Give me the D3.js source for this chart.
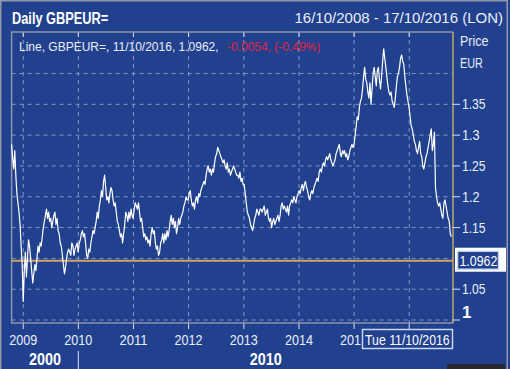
<!DOCTYPE html>
<html><head><meta charset="utf-8">
<script src="https://cdn.jsdelivr.net/npm/d3@7"></script>
<style>html,body{margin:0;padding:0;background:#21418f;overflow:hidden}svg{display:block}</style>
</head><body><svg id="c" width="510" height="369"></svg>
<script>
const title = "Daily GBPEUR=";
const rangeText = "16/10/2008 - 17/10/2016 (LON)";
const legendWhite = "Line, GBPEUR=, 11/10/2016, 1.0962,";
const legendRed = "-0.0054, (-0.49%)";
const lastPrice = 1.0962;
const lastDateLabel = "Tue 11/10/2016";
const axisTitle = ["Price", "EUR"];
const yTicks = [1.05, 1.15, 1.2, 1.25, 1.3, 1.35];
const yTickLabels = ["1.05", "1.15", "1.2", "1.25", "1.3", "1.35"];
const yGrid = [1.0, 1.05, 1.1, 1.15, 1.2, 1.25, 1.3, 1.35, 1.4];
const gridYears = ["2009", "2010", "2011", "2012", "2013", "2014", "2015", "2016"];
const yearLabels = ["2009", "2010", "2011", "2012", "2013", "2014", "201"]; // last one is cut by the date tag
const decadeLabels = ["2000", "2010"];
const decadeStarts = ["2008-10-16", "2010-01-01"];
const startDate = "2008-10-16";
const endDate = "2016-10-17";

// weekly closes
const w2008 = [1.285,1.262,1.245,1.275,1.235,1.205,1.19,1.175,1.155,1.12,1.09];
const w2009 = [1.03,1.08,1.11,1.07, 1.10,1.13,1.12,1.10, 1.08,1.06,1.075,1.09,1.08, 1.10,1.12,1.11,1.125,
  1.12,1.135,1.15,1.16, 1.17,1.18,1.165,1.175,1.16, 1.165,1.15,1.16,1.17, 1.175,1.155,1.165,1.145,
  1.14,1.125,1.12,1.105,1.09, 1.075,1.085,1.10,1.11, 1.115,1.11,1.105,1.125, 1.12,1.105,1.115,1.12,1.125];
const w2010 = [1.11,1.125,1.13,1.14, 1.145,1.135,1.14,1.125, 1.105,1.10,1.115,1.11,1.125, 1.135,1.145,1.14,1.15,
  1.16,1.175,1.165,1.185, 1.195,1.21,1.20,1.225,1.235, 1.215,1.195,1.20,1.19, 1.205,1.215,1.21,1.195,
  1.185,1.19,1.175,1.16,1.155, 1.145,1.135,1.14,1.125, 1.14,1.155,1.175,1.17, 1.16,1.175,1.165,1.18,1.17];
const w2011 = [1.165,1.18,1.19,1.185, 1.18,1.19,1.175,1.16, 1.165,1.15,1.135,1.14,1.13, 1.135,1.125,1.13,1.12,
  1.14,1.15,1.14,1.145, 1.125,1.115,1.12,1.105,1.11, 1.125,1.13,1.14,1.125, 1.14,1.13,1.145,1.135,
  1.145,1.16,1.17,1.155,1.165, 1.15,1.16,1.14,1.15, 1.165,1.155,1.165,1.17, 1.175,1.185,1.19,1.20,1.195];
const w2012 = [1.195,1.205,1.21,1.195, 1.185,1.19,1.18,1.195, 1.20,1.19,1.205,1.20,1.21, 1.215,1.22,1.225,1.22,
  1.235,1.245,1.25,1.24, 1.245,1.235,1.245,1.24,1.255, 1.265,1.27,1.28,1.275, 1.27,1.265,1.26,1.255,
  1.26,1.25,1.245,1.255,1.24, 1.245,1.235,1.24,1.245, 1.25,1.245,1.24,1.235, 1.235,1.23,1.24,1.225,1.23,1.22];
const w2013 = [1.22,1.205,1.19,1.175, 1.17,1.165,1.155,1.15, 1.145,1.155,1.165,1.17,1.18, 1.175,1.17,1.18,1.18,
  1.175,1.18,1.185,1.17, 1.175,1.18,1.165,1.16,1.165, 1.15,1.16,1.165,1.155, 1.16,1.165,1.17,1.16,
  1.17,1.185,1.19,1.18,1.185, 1.18,1.175,1.185,1.17, 1.185,1.19,1.195,1.19, 1.20,1.195,1.19,1.20,1.205];
const w2014 = [1.21,1.205,1.215,1.22, 1.21,1.22,1.225,1.215, 1.21,1.20,1.195,1.205,1.21, 1.205,1.215,1.22,1.225,
  1.23,1.225,1.24,1.245, 1.24,1.25,1.255,1.25,1.26, 1.265,1.26,1.265,1.27, 1.26,1.255,1.25,1.255,
  1.26,1.27,1.275,1.28,1.285, 1.27,1.265,1.275,1.27, 1.275,1.265,1.27,1.26, 1.265,1.275,1.28,1.285,1.28];
const w2015 = [1.285,1.30,1.315,1.33, 1.325,1.345,1.355,1.36, 1.375,1.395,1.41,1.39,1.385, 1.37,1.36,1.385,1.35,
  1.375,1.40,1.41,1.395, 1.38,1.405,1.41,1.39,1.375, 1.395,1.42,1.44,1.425, 1.41,1.395,1.38,1.37,
  1.365,1.37,1.355,1.35,1.345, 1.36,1.38,1.395,1.40, 1.41,1.425,1.43,1.42, 1.415,1.395,1.38,1.365,1.355];
const w2016 = [1.345,1.33,1.315,1.31, 1.30,1.29,1.285,1.275, 1.27,1.28,1.29,1.27,1.265, 1.25,1.245,1.255,1.265,
  1.27,1.28,1.29,1.30, 1.31,1.275,1.285,1.305, 1.215,1.20, 1.19,1.185,1.19, 1.18,1.17,1.165,1.19,
  1.195,1.185,1.175,1.165,1.16, 1.14,1.135];

const values = [].concat(w2008, w2009, w2010, w2011, w2012, w2013, w2014, w2015, w2016);
const t0 = new Date(startDate + "T00:00:00");
const series = values.map((v, i) => ({ d: d3.timeDay.offset(t0, 7 * i), v }));

const BG = "#21418f", TXT = "#e9eef8", GRID = "#8596c6";
const FONT = "'Liberation Sans',Arial,sans-serif";
const svg = d3.select("#c").style("font-family", FONT);
svg.append("rect").attr("width", 510).attr("height", 369).attr("fill", BG);
svg.append("rect").attr("x", 0.75).attr("y", 0.75).attr("width", 506.5).attr("height", 372)
  .attr("fill", "none").attr("stroke", "#8f96aa").attr("stroke-width", 1.5);

const L = 11.6, R = 453, T = 32, B = 323;
const x = d3.scaleTime().domain([new Date(startDate + "T00:00:00"), new Date(endDate + "T00:00:00")]).range([L, R]);
const y = d3.scaleLinear().domain([1.0, 1.4]).range([320, 73.5]);

// helper: text squeezed to the narrow face of the original
function ntext(sel, str, size, perChar) {
  return sel.append("text").attr("font-size", size)
    .attr("textLength", str.length * perChar).attr("lengthAdjust", "spacingAndGlyphs").text(str);
}

// header
ntext(svg, title, 16, 7.4).attr("x", 12).attr("y", 24).attr("fill", "#fff").attr("font-weight", "bold");
svg.append("text").attr("x", 503).attr("y", 23).attr("text-anchor", "end").attr("fill", TXT).attr("font-size", 15).text(rangeText);

// grid
const gridDates = gridYears.map(s => new Date(s + "-01-01T00:00:00"));
const g = svg.append("g");
g.selectAll("line.h").data(yGrid).join("line")
  .attr("x1", L).attr("x2", R).attr("y1", d => y(d)).attr("y2", d => y(d))
  .attr("stroke", GRID).attr("stroke-width", 1).attr("stroke-dasharray", "4,4");
g.selectAll("line.v").data(gridDates).join("line")
  .attr("x1", d => x(d)).attr("x2", d => x(d)).attr("y1", T).attr("y2", B)
  .attr("stroke", GRID).attr("stroke-width", 1).attr("stroke-dasharray", "4,4");
g.selectAll("line.tt").data(gridDates).join("line")
  .attr("x1", d => x(d)).attr("x2", d => x(d)).attr("y1", T).attr("y2", T + 5).attr("stroke", "#d8e0f0");
g.selectAll("line.bt").data(gridDates).join("line")
  .attr("x1", d => x(d)).attr("x2", d => x(d)).attr("y1", B).attr("y2", B + 6).attr("stroke", "#d8e0f0");

// frame
svg.append("path").attr("d", `M${R},${T}H${L}V${B}H${R}`).attr("fill", "none").attr("stroke", "#8e95a8").attr("stroke-width", 1.5);
svg.append("line").attr("x1", R).attr("x2", R).attr("y1", T).attr("y2", B).attr("stroke", "#c2a66f").attr("stroke-width", 1.5);

// last price line
svg.append("line").attr("x1", L).attr("x2", R).attr("y1", y(lastPrice)).attr("y2", y(lastPrice))
  .attr("stroke", "#cfa45e").attr("stroke-width", 2);

// series
svg.append("path").datum(series)
  .attr("d", d3.line().x(d => x(d.d)).y(d => y(d.v)))
  .attr("fill", "none").attr("stroke", "#ffffff").attr("stroke-width", 1.2).attr("stroke-linejoin", "round");

// legend
svg.append("text").attr("x", 19).attr("y", 51).attr("font-size", 12).attr("fill", TXT).text(legendWhite);
svg.append("text").attr("x", 227).attr("y", 51).attr("font-size", 12).attr("fill", "#e0243c").text(legendRed);

// y axis on the right
const ya = svg.append("g");
ya.selectAll("line").data(yTicks.concat([1.0])).join("line")
  .attr("x1", R).attr("x2", R + 7).attr("y1", d => y(d)).attr("y2", d => y(d)).attr("stroke", "#d8e0f0");
yTicks.forEach((d, i) => {
  ntext(ya, yTickLabels[i], 15, 5.9).attr("x", R + 9).attr("y", y(d) + 5).attr("fill", TXT);
});
ya.append("text").attr("x", R + 9).attr("y", y(1.0) - 2).attr("fill", "#fff").attr("font-size", 17).attr("font-weight", "bold").text("1");
ntext(svg, axisTitle[0], 15, 5.7).attr("x", 460).attr("y", 46).attr("fill", TXT);
ntext(svg, axisTitle[1], 15, 7.6).attr("x", 460).attr("y", 68).attr("fill", TXT);

// last price tag
const yl = y(lastPrice);
svg.append("rect").attr("x", 455).attr("y", yl - 13).attr("width", 51).attr("height", 24).attr("fill", "#ffffff");
svg.append("rect").attr("x", 457.5).attr("y", yl - 9.5).attr("width", 41).attr("height", 18).attr("fill", BG).attr("stroke", "#c9d6f0").attr("stroke-width", 1.5);
ntext(svg, lastPrice.toFixed(4), 15, 6.3).attr("x", 459.5).attr("y", yl + 5.5).attr("fill", "#fff");

// x axis labels
const xl = svg.append("g");
yearLabels.forEach((s, i) => {
  ntext(xl, s, 15, 7).attr("x", x(gridDates[i]) - 14).attr("y", 345).attr("fill", TXT);
});
// date tag
svg.append("rect").attr("x", 362.5).attr("y", 329.5).attr("width", 90).attr("height", 19).attr("fill", BG).attr("stroke", "#c9d6f0").attr("stroke-width", 1.5);
ntext(svg, lastDateLabel, 15, 6.05).attr("x", 365).attr("y", 345).attr("fill", "#fff");

// decade row
const dec0 = x(new Date(decadeStarts[1] + "T00:00:00"));
svg.append("line").attr("x1", dec0).attr("x2", dec0).attr("y1", 351).attr("y2", 369).attr("stroke", "#d8e0f0");
ntext(svg, decadeLabels[0], 16, 8).attr("x", (L + dec0) / 2 - 16).attr("y", 365).attr("fill", "#fff").attr("font-weight", "bold");
ntext(svg, decadeLabels[1], 16, 8).attr("x", (dec0 + R) / 2 - 16).attr("y", 365).attr("fill", "#fff").attr("font-weight", "bold");
svg.append("rect").attr("x", 447).attr("y", 364).attr("width", 58).attr("height", 6).attr("fill", "#2a2a2e");
</script></body></html>
